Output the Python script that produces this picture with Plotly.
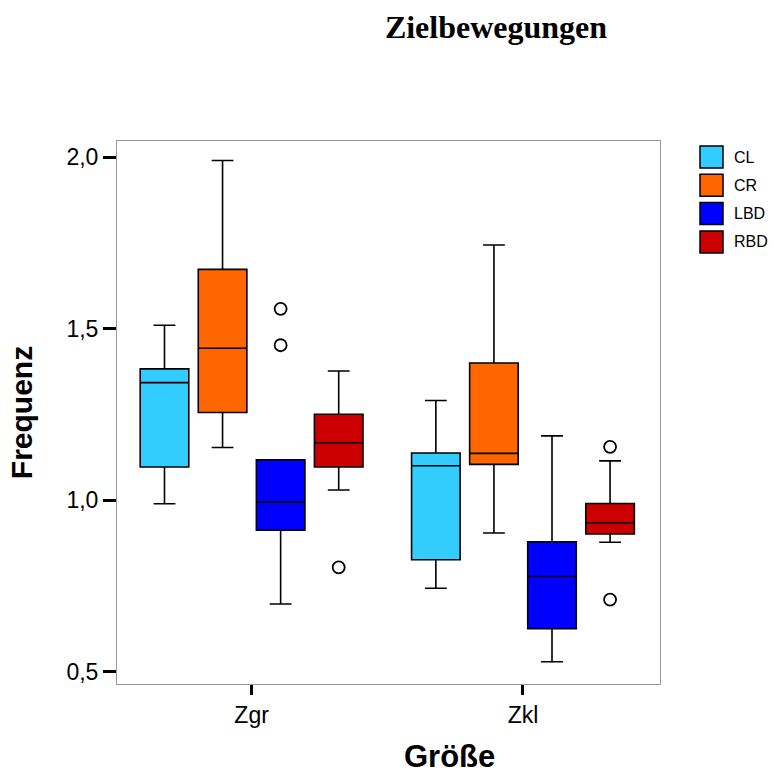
import plotly.graph_objects as go

categories = ["Zgr", "Zkl"]
series = ["CL", "CR", "LBD", "RBD"]
colors = ["#33CCFF", "#FF6600", "#0000FF", "#CC0000"]

# per series: values for [Zgr, Zkl]
lower_whisker = {"CL": [0.990, 0.744], "CR": [1.154, 0.905], "LBD": [0.698, 0.530], "RBD": [1.030, 0.878]}
q1_vals       = {"CL": [1.097, 0.827], "CR": [1.256, 1.105], "LBD": [0.913, 0.626], "RBD": [1.097, 0.902]}
median_vals   = {"CL": [1.343, 1.101], "CR": [1.443, 1.137], "LBD": [0.995, 0.778], "RBD": [1.168, 0.935]}
q3_vals       = {"CL": [1.383, 1.138], "CR": [1.673, 1.400], "LBD": [1.118, 0.879], "RBD": [1.251, 0.991]}
upper_whisker = {"CL": [1.510, 1.291], "CR": [1.990, 1.744], "LBD": [1.118, 1.188], "RBD": [1.377, 1.115]}
# outliers: (category index, value)
outliers = {"CL": [], "CR": [], "LBD": [(0, 1.558), (0, 1.452)], "RBD": [(0, 0.805), (1, 1.156), (1, 0.711)]}

y_ticks = [0.5, 1.0, 1.5, 2.0]

W, H = 774, 774
ML, MR, MT, MB = 117, 114, 141, 90

fig = go.Figure()
spacing = 0.214
box_w = 0.179
n = len(series)
for i, s in enumerate(series):
    off = (i - (n - 1) / 2) * spacing
    xs = [k + off for k in range(len(categories))]
    fig.add_trace(go.Box(
        x=xs, q1=q1_vals[s], median=median_vals[s], q3=q3_vals[s],
        lowerfence=lower_whisker[s], upperfence=upper_whisker[s],
        width=box_w, name=s, fillcolor=colors[i],
        line=dict(color="#000000", width=1.6), whiskerwidth=0.45,
        boxpoints=False, hoverinfo="skip", showlegend=False,
    ))
    if outliers[s]:
        fig.add_trace(go.Scatter(
            x=[c + off for c, v in outliers[s]], y=[v for c, v in outliers[s]],
            mode="markers", showlegend=False, hoverinfo="skip",
            marker=dict(symbol="circle", size=12, color="white", line=dict(color="black", width=1.8)),
        ))

pw = W - ML - MR
ph = H - MT - MB
def px2x(px):
    return (px - ML) / pw
def py2y(py):
    return (H - MB - py) / ph

shapes = []
annotations = []
# custom legend (large square swatches like the original)
for i, s in enumerate(series):
    cy = 157 + i * 28.3
    shapes.append(dict(type="rect", xref="paper", yref="paper",
                       x0=px2x(700), x1=px2x(723), y0=py2y(cy + 11), y1=py2y(cy - 11),
                       fillcolor=colors[i], line=dict(color="black", width=1.5)))
    annotations.append(dict(text=s, xref="paper", yref="paper", x=px2x(732), y=py2y(cy),
                            xanchor="left", yanchor="middle", showarrow=False,
                            font=dict(size=16, family="Liberation Sans", color="black")))

# x axis title (placed right of centre as in the original)
annotations.append(dict(text="<b>Größe</b>", xref="paper", yref="paper", x=px2x(449), y=py2y(756),
                        xanchor="center", yanchor="middle", showarrow=False,
                        font=dict(size=31, family="Liberation Sans", color="black")))

fig.update_layout(
    width=W, height=H,
    paper_bgcolor="white", plot_bgcolor="white",
    margin=dict(l=ML, r=MR, t=MT, b=MB),
    separators=",.",
    showlegend=False,
    shapes=shapes, annotations=annotations,
    title=dict(text="<b>Zielbewegungen</b>", x=496 / W, xanchor="center", y=1 - 27 / H, yanchor="middle",
               font=dict(family="Liberation Serif", size=32, color="black")),
    font=dict(family="Liberation Sans", color="black"),
    xaxis=dict(range=[-0.496, 1.505], tickvals=list(range(len(categories))), ticktext=categories,
               ticks="outside", ticklen=10, tickwidth=3, tickcolor="black",
               showline=True, mirror=True, linecolor="#999999", linewidth=1,
               showgrid=False, zeroline=False, tickfont=dict(size=23)),
    yaxis=dict(range=[0.465, 2.047], tickvals=y_ticks, tickformat=".1f",
               ticks="outside", ticklen=13, tickwidth=3, tickcolor="black",
               showline=True, mirror=True, linecolor="#999999", linewidth=1,
               showgrid=False, zeroline=False, tickfont=dict(size=23),
               title=dict(text="<b>Frequenz</b>", font=dict(size=30), standoff=24)),
)

fig.write_html("out.html", config={"displayModeBar": False},
               post_script="document.body.style.margin='0';")
